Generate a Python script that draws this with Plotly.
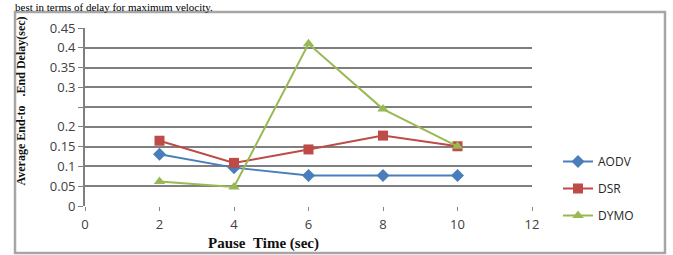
import plotly.graph_objects as go

pause_time = [2, 4, 6, 8, 10]
aodv = [0.131, 0.097, 0.077, 0.077, 0.077]
dsr = [0.165, 0.109, 0.143, 0.178, 0.151]
dymo = [0.062, 0.048, 0.410, 0.245, 0.151]

y_tickvals = [0, 0.05, 0.1, 0.15, 0.2, 0.25, 0.3, 0.35, 0.4, 0.45]
y_ticktext = ["0", "0.05", "0.1", "0.15", "0.2", "", "0.3", "0.35", "0.4", "0.45"]
x_tickvals = [0, 2, 4, 6, 8, 10, 12]

W, H = 673, 255
L, R, T, B = 85, 141, 28, 49
pw, ph = W - L - R, H - T - B

def px(x):
    return (x - L) / pw

def py(y):
    return (H - B - y) / ph

fig = go.Figure()
fig.add_trace(go.Scatter(x=pause_time, y=aodv, name="AODV", mode="lines+markers",
                         line=dict(color="#4A7EBB", width=2),
                         marker=dict(symbol="diamond", size=10, color="#4A7EBB"),
                         legendgroup="a"))
fig.add_trace(go.Scatter(x=pause_time, y=dsr, name="DSR", mode="lines+markers",
                         line=dict(color="#BE4B48", width=2),
                         marker=dict(symbol="square", size=10, color="#BE4B48"),
                         legendgroup="b"))
fig.add_trace(go.Scatter(x=pause_time, y=dymo, name="DYMO", mode="lines+markers",
                         line=dict(color="#98B954", width=2),
                         marker=dict(symbol="triangle-up", size=10, color="#98B954"),
                         legendgroup="c"))

fig.update_layout(
    width=W, height=H,
    margin=dict(l=L, r=R, t=T, b=B),
    paper_bgcolor="white", plot_bgcolor="white",
    font=dict(family="Open Sans, Liberation Sans, sans-serif", size=13, color="#404040"),
    showlegend=True,
    legend=dict(x=px(558), y=py(147), xanchor="left", yanchor="top",
                font=dict(size=12, color="#262626"), tracegroupgap=8,
                bgcolor="rgba(0,0,0,0)"),
    xaxis=dict(range=[0, 12], tickvals=x_tickvals, showgrid=False, zeroline=False,
               showline=False, ticks="outside", ticklen=4, tickcolor="#868686",
               ticklabelstandoff=2,
               tickfont=dict(size=13, color="#404040")),
    yaxis=dict(range=[0, 0.45], tickvals=y_tickvals, ticktext=y_ticktext,
               showgrid=True, gridcolor="#7F7F7F", gridwidth=1.8, zeroline=False,
               showline=True, linecolor="#7F7F7F", linewidth=1.8,
               ticks="outside", ticklen=5, tickcolor="#7F7F7F",
               tickfont=dict(size=13, color="#404040")),
)

# x axis title
fig.add_annotation(text="<b>Pause&nbsp;&nbsp;Time (sec)</b>", xref="paper", yref="paper",
                   x=px(263), y=py(243), xanchor="center", yanchor="middle", showarrow=False,
                   font=dict(family="Liberation Serif, serif", size=15, color="#111111"))
# y axis title
fig.add_annotation(text="<b>Average\u00a0End-to\u00a0\u00a0\u00a0.End\u00a0Delay(sec)</b>",
                   xref="paper", yref="paper", x=px(20), y=py(188),
                   xanchor="center", yanchor="bottom", textangle=-90, showarrow=False,
                   font=dict(family="Liberation Serif, serif", size=12, color="#111111"))
# document text above the chart
fig.add_annotation(text="best in terms of delay for maximum velocity.", xref="paper", yref="paper",
                   x=px(14), y=py(0), xanchor="left", yanchor="top", showarrow=False,
                   borderpad=0,
                   font=dict(family="Liberation Serif, serif", size=11, color="#000000"))

# outer frame of the embedded chart image
fig.add_shape(type="rect", xref="paper", yref="paper",
              x0=px(15), x1=px(665), y0=py(253), y1=py(12),
              line=dict(color="#A6A6A6", width=2.5), layer="below")

fig.write_html("out.html", config={"displayModeBar": False},
               post_script="document.body.style.margin='0';")
